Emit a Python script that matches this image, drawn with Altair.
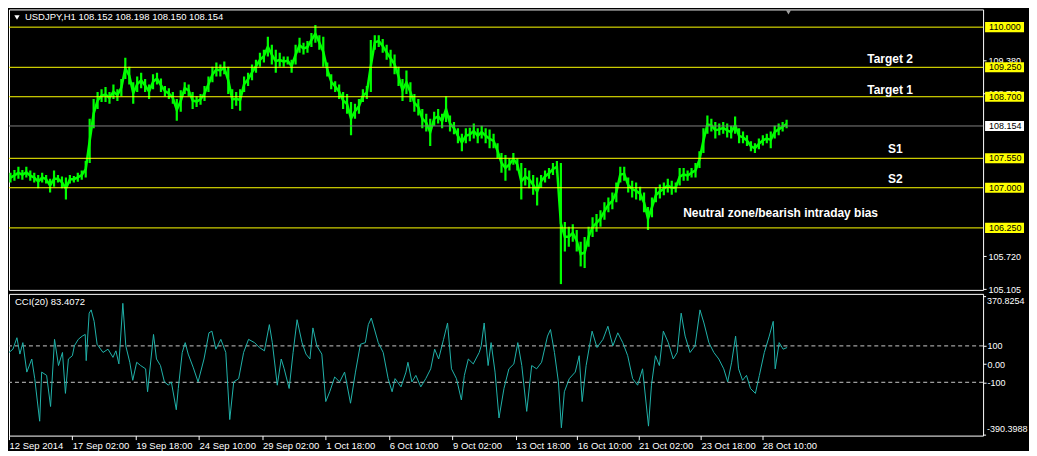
import altair as alt
import pandas as pd

# ---------------- data ----------------
title_text = "USDJPY,H1  108.152 108.198 108.150 108.154"
cci_title = "CCI(20) 83.4072"

GROUP = 4  # hourly bars per drawn price point
price_high = [
    107.28, 107.33, 107.39, 107.33, 107.39, 107.32, 107.28, 107.24, 107.28, 107.24,
    107.17, 107.32, 107.24, 107.21, 107.19, 107.24, 107.22, 107.28, 107.32, 107.50,
    108.29, 108.66, 108.79, 108.84, 108.88, 108.79, 108.93, 108.84, 109.03, 109.43,
    109.26, 108.97, 109.08, 109.15, 109.03, 108.93, 109.12, 109.15, 109.04, 108.90,
    108.86, 108.79, 108.66, 108.82, 108.97, 108.93, 108.79, 108.71, 108.75, 108.90,
    109.08, 109.26, 109.34, 109.30, 109.36, 109.26, 108.84, 108.79, 108.84, 109.08,
    109.15, 109.30, 109.39, 109.52, 109.58, 109.82, 109.67, 109.58, 109.52, 109.45,
    109.45, 109.39, 109.67, 109.80, 109.71, 109.74, 109.89, 110.04, 109.85, 109.82,
    109.34, 109.12, 108.99, 108.93, 108.79, 108.75, 108.60, 108.57, 108.66, 108.84,
    108.90, 109.76, 109.85, 109.85, 109.78, 109.67, 109.58, 109.49, 109.26, 109.03,
    109.19, 108.97, 108.75, 108.66, 108.47, 108.38, 108.29, 108.42, 108.47, 108.38,
    108.71, 108.35, 108.23, 108.11, 108.01, 108.11, 108.12, 108.20, 108.11, 108.16,
    108.11, 108.09, 108.01, 107.83, 107.65, 107.61, 107.55, 107.65, 107.55, 107.46,
    107.37, 107.32, 107.24, 107.19, 107.24, 107.32, 107.37, 107.46, 107.50, 107.46,
    106.36, 106.27, 106.32, 106.21, 105.99, 106.08, 106.27, 106.45, 106.51, 106.58,
    106.73, 106.82, 106.91, 107.10, 107.39, 107.39, 107.19, 107.13, 107.10, 107.02,
    106.91, 106.64, 106.82, 107.00, 107.06, 107.10, 107.17, 107.13, 107.10, 107.37,
    107.37, 107.32, 107.37, 107.46, 107.68, 108.11, 108.35, 108.29, 108.23, 108.20,
    108.23, 108.20, 108.16, 108.33, 108.11, 108.05, 107.98, 107.87, 107.83, 107.92,
    107.98, 108.01, 108.05, 108.16, 108.20, 108.23, 108.27,
]
price_low = [
    107.10, 107.13, 107.17, 107.15, 107.19, 107.13, 107.10, 106.99, 107.10, 107.08,
    106.91, 107.02, 107.10, 106.99, 106.78, 107.08, 107.10, 107.11, 107.15, 107.19,
    107.46, 108.11, 108.47, 108.60, 108.60, 108.57, 108.66, 108.62, 108.71, 109.03,
    108.93, 108.57, 108.79, 108.86, 108.79, 108.66, 108.84, 108.93, 108.79, 108.71,
    108.66, 108.57, 108.25, 108.42, 108.75, 108.71, 108.47, 108.51, 108.55, 108.62,
    108.79, 108.97, 109.08, 109.08, 109.12, 108.75, 108.47, 108.53, 108.44, 108.79,
    108.90, 109.01, 109.15, 109.26, 109.34, 109.45, 109.30, 109.15, 109.26, 109.26,
    109.30, 109.15, 109.30, 109.52, 109.49, 109.52, 109.63, 109.71, 109.58, 109.26,
    109.08, 108.84, 108.79, 108.66, 108.47, 108.38, 107.98, 108.29, 108.38, 108.60,
    108.66, 108.79, 109.58, 109.63, 109.52, 109.39, 109.26, 109.12, 108.90, 108.62,
    108.75, 108.60, 108.42, 108.35, 108.11, 108.05, 107.78, 108.16, 108.20, 108.11,
    108.23, 108.05, 108.00, 107.83, 107.68, 107.83, 107.87, 107.92, 107.83, 107.92,
    107.83, 107.74, 107.74, 107.55, 107.28, 107.13, 107.32, 107.43, 107.32, 106.78,
    107.04, 106.99, 106.87, 106.67, 107.00, 107.10, 107.17, 107.24, 107.28, 105.20,
    105.81, 105.90, 105.99, 105.81, 105.53, 105.50, 105.90, 106.08, 106.18, 106.27,
    106.40, 106.54, 106.60, 106.73, 107.10, 107.13, 106.91, 106.82, 106.78, 106.76,
    106.54, 106.21, 106.45, 106.73, 106.80, 106.86, 106.91, 106.87, 106.91, 107.04,
    107.13, 107.13, 107.19, 107.19, 107.37, 107.65, 108.01, 108.05, 107.92, 107.98,
    108.01, 107.94, 107.92, 108.01, 107.83, 107.83, 107.78, 107.68, 107.65, 107.72,
    107.79, 107.83, 107.74, 107.92, 107.98, 108.05, 108.11,
]

level_values = [110.0, 109.25, 108.7, 107.55, 107.0, 106.25]
level_labels = ["110.000", "109.250", "108.700", "107.550", "107.000", "106.250"]
bid_value = 108.154
bid_label = "108.154"
price_axis_values = [105.105, 105.72, 108.765, 109.38]

note_texts = ["Target 2", "Target 1", "S1", "S2", "Neutral zone/bearish intraday bias"]
note_bars = [867, 867, 888, 888, 681]
note_prices = [109.41, 108.82, 107.72, 107.16, 106.53]

cci_bars = [0, 4, 8, 11, 14, 18, 23, 26, 31, 33, 38, 42, 46, 50, 54, 57, 60, 64, 66, 70,
            74, 77, 78, 81, 83, 86, 89, 95, 100, 105, 108, 111, 115, 118, 122, 125, 129, 133, 138, 140,
            146, 149, 153, 157, 161, 164, 169, 171, 175, 178, 181, 186, 191, 197, 202, 205, 209, 214, 219, 223,
            227, 232, 237, 242, 248, 253, 258, 263, 266, 271, 275, 278, 283, 287, 291, 296, 300, 304, 307, 311,
            316, 320, 324, 329, 334, 339, 345, 350, 355, 360, 363, 366, 373, 378, 383, 387, 390, 396, 401, 403,
            407, 411, 416, 421, 426, 430, 434, 439, 443, 447, 452, 457, 460, 464, 469, 475, 477, 480, 484, 487,
            491, 495, 500, 505, 510, 514, 518, 523, 528, 533, 538, 544, 547, 551, 555, 558, 561, 566, 572, 576,
            579, 583, 587, 589, 594, 600, 605, 610, 615, 620, 625, 630, 635, 640, 646, 649, 653, 657, 661, 666,
            671, 675, 679, 683, 688, 693, 698, 702, 707, 712, 717, 722, 726, 730, 734, 737, 741, 745, 749, 754,
            758, 763, 768, 772, 774, 778, 782, 786]
cci_values = [64, 82, 145, 55, 118, -44, 28, -80, -314, -44, -62, -233, 136, -8, 64, -161, 28, 46, 100, 136,
              154, 163, 19, 280, 298, 235, 109, 64, 82, 37, 73, 1, 334, 100, 10, -89, 10, -8, -26, -152,
              163, 28, -8, -98, -116, -98, -251, -134, 64, 118, 55, -17, -98, 28, 172, 181, 82, 136, 64, -305,
              -98, -80, 64, 136, 118, 91, 73, 217, 118, -116, 28, -26, -134, 64, 244, 118, 55, 28, 199, 100,
              55, -206, -152, -71, -98, -44, -215, -44, 109, 118, 217, 253, 118, 64, -80, -152, -80, -125, -44, 10,
              -98, -62, -125, -80, -26, 82, 28, 136, 226, -26, -80, -197, -62, 28, 1, 64, 100, 226, -8, 118,
              -44, -296, -134, -26, 1, 118, -8, -260, -8, -26, 10, 154, 190, 64, -98, -350, -152, -80, -44, 46,
              -206, -8, 118, 181, 91, 136, 208, 100, 172, 118, 46, -80, -116, -26, -341, -116, 46, -8, 181, 118,
              28, 64, 280, 154, 64, 100, 298, 226, 118, 64, 28, -26, -98, 10, 154, -26, -89, -62, -134, -161,
              -62, 64, 154, 235, -26, 118, 82, 91]
cci_levels = [100, -100]
cci_axis_values = [100, 0, -100]
cci_axis_labels = ["100", "0.00", "-100"]
cci_range_values = [370.8254, -390.3988]
cci_range_labels = ["370.8254", "-390.3988"]

time_ticks = [0, 64, 128, 192, 256, 320, 384, 448, 512, 574, 636, 699, 761]
time_labels = ["12 Sep 2014", "17 Sep 02:00", "19 Sep 18:00", "24 Sep 10:00", "29 Sep 02:00",
               "1 Oct 18:00", "6 Oct 10:00", "9 Oct 02:00", "13 Oct 18:00", "16 Oct 10:00",
               "21 Oct 02:00", "23 Oct 18:00", "28 Oct 10:00"]

# ---------------- layout ----------------
W = 976
H_MAIN = 281
H_CCI = 142
FONT = "Liberation Sans"
SMALL = 9.5
AX = 9
GREEN = "#00FF00"
YELLOW = "#FFFF00"
TEAL = "#20B2AA"
BOX_SHAPE = "M-1,-0.26L1,-0.26L1,0.26L-1,0.26Z"
BOX_SIZE = 1521  # 39 px wide

x_scale = alt.Scale(domain=[0, 984], nice=False, zero=False)
y_price = alt.Scale(domain=[105.092, 110.331], nice=False, zero=False)
y_cci = alt.Scale(domain=[-393, 386], nice=False, zero=False)


def lookup_expr(keys, labels):
    body = ",".join("'%s':'%s'" % (k, l) for k, l in zip(keys, labels))
    return "{" + body + "}[datum.value]"


price_df = pd.DataFrame({
    "bar": [GROUP * i + (GROUP - 1) / 2 for i in range(len(price_high))],
    "high": price_high,
    "low": price_low,
})
levels_df = pd.DataFrame({"price": level_values, "label": level_labels})
bid_df = pd.DataFrame({"price": [bid_value], "label": [bid_label]})
notes_df = pd.DataFrame({"text": note_texts, "bar": note_bars, "price": note_prices})
one = pd.DataFrame({"t": [title_text]})

price_axis = alt.Axis(orient="right", values=price_axis_values, format=".3f", tickSize=3,
                      labelPadding=2, labelFontSize=AX, labelColor="white", tickColor="white",
                      domain=False, grid=False, title=None, labelOverlap=False, labelBound=False)
yP = alt.Y("price:Q", scale=y_price, axis=price_axis)
xB = alt.X("bar:Q", scale=x_scale, axis=None)

spikes = alt.Chart(price_df).mark_rule(color=GREEN, strokeWidth=2.2, clip=True).encode(
    x=xB,
    y=alt.Y("low:Q", scale=y_price, axis=price_axis),
    y2="high:Q",
)
mid_line = alt.Chart(price_df).transform_calculate(
    mid="(datum.high + datum.low) / 2"
).mark_line(color=GREEN, strokeWidth=2.5, clip=True, interpolate="linear").encode(
    x=xB,
    y=alt.Y("mid:Q", scale=y_price, axis=price_axis),
)

yellow_lines = alt.Chart(levels_df).mark_rule(color=YELLOW, strokeWidth=1).encode(y=yP)
bid_line = alt.Chart(bid_df).mark_rule(color="#808080", strokeWidth=1).encode(y=yP)

yellow_boxes = alt.Chart(levels_df).mark_point(
    shape=BOX_SHAPE, size=BOX_SIZE, filled=True, fill=YELLOW, opacity=1, strokeWidth=0
).encode(x=alt.value(W + 21.5), y=yP)
yellow_text = alt.Chart(levels_df).mark_text(
    align="left", baseline="middle", font=FONT, fontSize=AX, color="black"
).encode(x=alt.value(W + 6), y=yP, text="label:N")
bid_box = alt.Chart(bid_df).mark_point(
    shape=BOX_SHAPE, size=BOX_SIZE, filled=True, fill="white", opacity=1, strokeWidth=0
).encode(x=alt.value(W + 21.5), y=yP)
bid_text = alt.Chart(bid_df).mark_text(
    align="left", baseline="middle", font=FONT, fontSize=AX, color="black"
).encode(x=alt.value(W + 6), y=yP, text="label:N")

notes = alt.Chart(notes_df).mark_text(
    align="left", baseline="middle", font=FONT, fontSize=12, fontWeight="bold", color="white"
).encode(x=alt.X("bar:Q", scale=x_scale, axis=None), y=yP, text="text:N")

title_mark = alt.Chart(one).mark_text(
    align="left", baseline="middle", font=FONT, fontSize=SMALL, color="white"
).encode(x=alt.value(16), y=alt.value(8), text="t:N")
title_arrow = alt.Chart(one).mark_point(
    shape="triangle-down", size=28, filled=True, fill="white", opacity=1, strokeWidth=0
).encode(x=alt.value(8), y=alt.value(8))
shift_marker = alt.Chart(one).mark_point(
    shape="triangle-down", size=24, filled=True, fill="#A0A0A0", opacity=1, strokeWidth=0
).encode(x=alt.value(781), y=alt.value(3))

main = alt.layer(
    spikes, mid_line, yellow_lines, bid_line, notes, title_arrow, title_mark, shift_marker,
    yellow_boxes, yellow_text, bid_box, bid_text,
).properties(width=W, height=H_MAIN)

# ---------------- CCI ----------------
cci_df = pd.DataFrame({"bar": cci_bars, "cci": cci_values})
cci_lv_df = pd.DataFrame({"cci": cci_levels})
cci_rng_df = pd.DataFrame({"cci": cci_range_values, "label": cci_range_labels,
                           "shift": [4, -6]})
one_cci = pd.DataFrame({"t": [cci_title]})

cci_axis = alt.Axis(orient="right", values=cci_axis_values,
                    labelExpr=lookup_expr(cci_axis_values, cci_axis_labels),
                    tickSize=3, labelPadding=1, labelFontSize=AX, labelColor="white",
                    tickColor="white", domain=False, grid=False, title=None,
                    labelOverlap=False, labelBound=False)
time_axis = alt.Axis(orient="bottom", values=time_ticks,
                     labelExpr=lookup_expr(time_ticks, time_labels),
                     tickSize=4, labelPadding=1, labelAlign="left", labelBaseline="top",
                     labelFontSize=SMALL, labelColor="white", tickColor="white",
                     domain=False, grid=False, title=None, labelOverlap=False, labelBound=False,
                     labelFlush=False)
yC = alt.Y("cci:Q", scale=y_cci, axis=cci_axis)

cci_line = alt.Chart(cci_df).mark_line(color=TEAL, strokeWidth=1, clip=True).encode(
    x=alt.X("bar:Q", scale=x_scale, axis=time_axis),
    y=yC,
)
cci_dash = alt.Chart(cci_lv_df).mark_rule(color="#C8C8C8", strokeWidth=1, strokeDash=[4, 3]).encode(y=yC)
cci_rng_ticks = alt.Chart(cci_rng_df).mark_rule(color="white", strokeWidth=1).encode(
    x=alt.value(W), x2=alt.value(W + 3), y=yC
)
cci_rng_top = alt.Chart(cci_rng_df).transform_filter("datum.cci > 0").mark_text(
    align="left", baseline="middle", font=FONT, fontSize=AX, color="white", dy=4
).encode(x=alt.value(W + 4), y=yC, text="label:N")
cci_rng_bot = alt.Chart(cci_rng_df).transform_filter("datum.cci < 0").mark_text(
    align="left", baseline="middle", font=FONT, fontSize=AX, color="white", dy=-6
).encode(x=alt.value(W + 4), y=yC, text="label:N")
cci_label = alt.Chart(one_cci).mark_text(
    align="left", baseline="middle", font=FONT, fontSize=SMALL, color="white"
).encode(x=alt.value(6), y=alt.value(8), text="t:N")

cci = alt.layer(cci_dash, cci_line, cci_rng_ticks, cci_rng_top, cci_rng_bot, cci_label).properties(
    width=W, height=H_CCI)

chart = alt.vconcat(main, cci, spacing=4, bounds="flush").properties(
    padding=0, background="black"
).configure_view(stroke="white", strokeWidth=1).configure_axis(labelFont=FONT)

chart.save("out.html", embed_options={"renderer": "svg", "actions": False})
